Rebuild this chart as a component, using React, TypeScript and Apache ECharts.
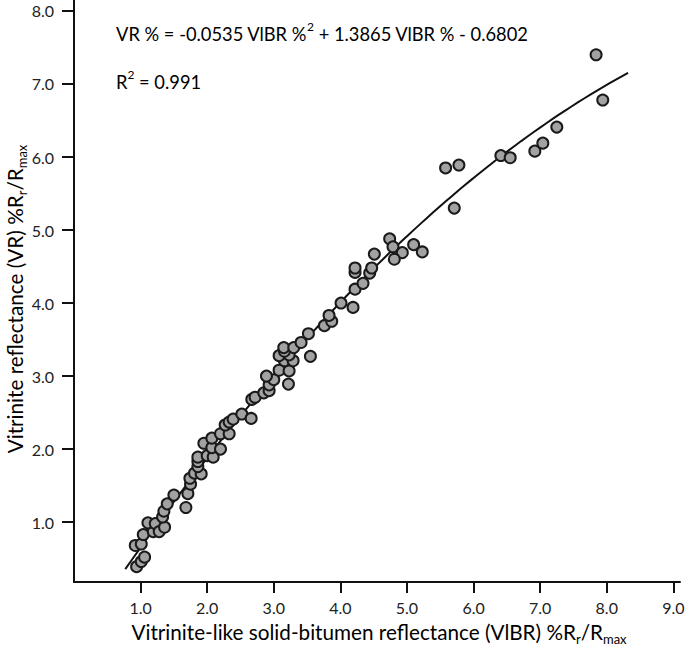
import React, { useEffect, useRef } from "react";
import * as echarts from "echarts";

const vibrValues = [
  0.94, 1.01, 1.06, 0.92, 1.01, 1.04, 1.19, 1.11, 1.22, 1.28, 1.36, 1.33, 1.35, 1.40, 1.50,
  1.68, 1.71, 1.75, 1.74, 1.81, 1.91, 1.86, 1.86, 1.86, 2.00, 2.09, 1.95, 2.07, 2.20, 2.07,
  2.20, 2.33, 2.27, 2.33, 2.39, 2.52, 2.66, 2.67, 2.72, 2.85, 2.93, 2.93, 3.00, 2.89, 3.22,
  3.08, 3.23, 3.16, 3.29, 3.08, 3.23, 3.16, 3.15, 3.30, 3.55, 3.41, 3.52, 3.76, 3.87, 3.83,
  4.01, 4.19, 4.22, 4.34, 4.44, 4.47, 4.22, 4.22, 4.51, 4.74, 4.79, 4.93, 4.81, 5.10, 5.23,
  5.71, 5.58, 5.78, 6.41, 6.55, 6.92, 7.04, 7.25, 7.84, 7.94,
];
const vrValues = [
  0.39, 0.46, 0.52, 0.68, 0.70, 0.83, 0.87, 0.99, 0.98, 0.87, 0.93, 1.07, 1.15, 1.25, 1.37,
  1.20, 1.39, 1.52, 1.60, 1.67, 1.66, 1.76, 1.83, 1.89, 1.91, 1.89, 2.08, 2.02, 2.00, 2.15,
  2.21, 2.21, 2.33, 2.37, 2.41, 2.48, 2.42, 2.68, 2.71, 2.77, 2.80, 2.88, 2.95, 3.00, 2.89,
  3.08, 3.07, 3.21, 3.21, 3.28, 3.29, 3.34, 3.39, 3.39, 3.27, 3.46, 3.58, 3.69, 3.75, 3.83,
  4.00, 3.94, 4.19, 4.27, 4.41, 4.48, 4.42, 4.48, 4.67, 4.88, 4.77, 4.69, 4.60, 4.80, 4.70,
  5.30, 5.85, 5.89, 6.02, 5.99, 6.08, 6.19, 6.41, 7.40, 6.78,
];

const xTickValues = [1, 2, 3, 4, 5, 6, 7, 8, 9];
const yTickValues = [1, 2, 3, 4, 5, 6, 7, 8];

// Regression shown on the chart: VR = a*VlBR^2 + b*VlBR + c
const fitA = -0.0535;
const fitB = 1.3865;
const fitC = -0.6802;
const fitStart = 0.77;
const fitEnd = 8.32;
const rSquared = "0.991";

const FONT = "Lato, 'Open Sans', sans-serif";

export default function App() {
  const ref = useRef<HTMLDivElement>(null);

  useEffect(() => {
    document.body.style.margin = "0";
    if (!ref.current) return;
    const chart = echarts.init(ref.current, null, { renderer: "svg" });

    const points = vibrValues.map((x, i) => [x, vrValues[i]]);
    const fit: number[][] = [];
    const steps = 80;
    for (let i = 0; i <= steps; i++) {
      const x = fitStart + ((fitEnd - fitStart) * i) / steps;
      fit.push([x, fitA * x * x + fitB * x + fitC]);
    }

    const subRich = {
      t: { fontSize: 20.7, fontFamily: FONT, color: "#222", lineHeight: 26, verticalAlign: "middle" },
      s: { fontSize: 13, fontFamily: FONT, color: "#222", lineHeight: 13, verticalAlign: "bottom" },
    };
    const eqRich = {
      t: { fontSize: 18.3, fontFamily: FONT, color: "#1a1a1a", lineHeight: 23, verticalAlign: "bottom" },
      p: { fontSize: 12, fontFamily: FONT, color: "#1a1a1a", lineHeight: 12, verticalAlign: "top" },
    };

    chart.setOption({
      animation: false,
      backgroundColor: "#ffffff",
      grid: {
        left: 74,
        right: 5,
        top: 0,
        bottom: 63,
        containLabel: false,
        outerBoundsMode: "none",
      },
      xAxis: {
        type: "value",
        min: 0,
        max: 9.1,
        splitLine: { show: false },
        axisLine: { onZero: false, lineStyle: { color: "#111", width: 2 } },
        axisTick: {
          customValues: xTickValues,
          length: 11,
          lineStyle: { color: "#111", width: 2 },
        },
        axisLabel: {
          customValues: xTickValues,
          formatter: (v: number) => v.toFixed(1),
          fontFamily: FONT,
          fontSize: 16,
          color: "#222",
          margin: 17,
        },
      },
      yAxis: {
        type: "value",
        min: 0.18,
        max: 8.15,
        splitLine: { show: false },
        axisLine: { onZero: false, lineStyle: { color: "#111", width: 2 } },
        axisTick: {
          customValues: yTickValues,
          length: 12,
          lineStyle: { color: "#111", width: 2 },
        },
        axisLabel: {
          customValues: yTickValues,
          formatter: (v: number) => v.toFixed(1),
          fontFamily: FONT,
          fontSize: 16,
          color: "#222",
          margin: 20,
        },
      },
      graphic: [
        {
          type: "text",
          left: 116,
          top: 20,
          style: {
            text:
              "{t|VR % = -0.0535 VlBR %}{p|2}{t| + 1.3865 VlBR % - 0.6802}",
            rich: eqRich,
          },
        },
        {
          type: "text",
          left: 116,
          top: 68,
          style: {
            text: "{t|R}{p|2}{t| = " + rSquared + "}",
            rich: eqRich,
          },
        },
        {
          type: "text",
          x: 379,
          y: 632,
          style: {
            text: "{t|Vitrinite-like solid-bitumen reflectance (VlBR) %R}{s|r}{t|/R}{s|max}",
            rich: subRich,
            align: "center",
            verticalAlign: "middle",
          },
        },
        {
          type: "text",
          x: 15,
          y: 299,
          rotation: Math.PI / 2,
          style: {
            text: "{t|Vitrinite reflectance (VR) %R}{s|r}{t|/R}{s|max}",
            rich: subRich,
            align: "center",
            verticalAlign: "middle",
          },
        },
      ],
      series: [
        {
          type: "line",
          data: fit,
          showSymbol: false,
          smooth: false,
          lineStyle: { color: "#111", width: 2 },
          z: 1,
          silent: true,
        },
        {
          type: "scatter",
          data: points,
          symbol: "circle",
          symbolSize: 11,
          itemStyle: { color: "#a2a2a2", borderColor: "#1a1a1a", borderWidth: 2, opacity: 1 },
          z: 2,
        },
      ],
    });

    return () => chart.dispose();
  }, []);

  return <div ref={ref} style={{ width: 685, height: 645 }} />;
}
